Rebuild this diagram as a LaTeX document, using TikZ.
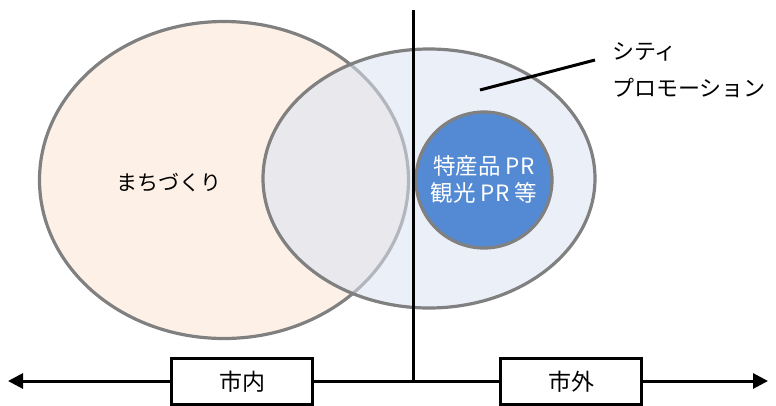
\documentclass[tikz,border=0pt]{standalone}
\usepackage{fontspec}
\setmainfont{Noto Sans CJK JP}
\usetikzlibrary{shapes.geometric,arrows.meta}
\definecolor{peach}{RGB}{253,240,231}
\definecolor{lblue}{RGB}{218,227,243}
\definecolor{midblue}{RGB}{84,138,212}
\definecolor{rim}{RGB}{128,128,128}
\tikzset{
  venn/.style={ellipse,draw=rim,line width=3.2pt,inner sep=0pt},
  tag/.style={draw=black,line width=3pt,fill=white,minimum width=141pt,minimum height=46pt,inner sep=0pt,font=\fontsize{23}{26}\selectfont},
  lab/.style={font=\fontsize{21}{24}\selectfont,inner sep=0pt},
  blk/.style={line width=3pt,draw=black}
}
\begin{document}
\begin{tikzpicture}[x=1pt,y=-1pt]
\useasboundingbox (0,0) rectangle (776,405);
\node[venn,fill=peach,minimum width=369pt,minimum height=317pt] (left) at (224,180) {};
\node[venn,fill=lblue,fill opacity=0.55,minimum width=332pt,minimum height=259pt] (right) at (429,178.5) {};
\node[venn,fill=midblue,minimum width=136pt,minimum height=136pt] (inner) at (484,180) {};
\coordinate (vtop) at (413,10);
\coordinate (vbot) at (413,381);
\draw[blk] (vtop) -- (vbot);
\coordinate (lineA) at (480,90);
\coordinate (lineB) at (595,60);
\draw[blk] (lineA) -- (lineB);
\coordinate (arL) at (8,381);
\coordinate (arR) at (768,381);
\draw[blk,{Triangle[length=15pt,width=15pt]}-{Triangle[length=15pt,width=15pt]}] (arL) -- (arR);
\node[tag] (in) at (242,381.5) {市内};
\node[tag] (out) at (571,381.5) {市外};
\node[lab] (machi) at (169,183) {まちづくり};
\node[lab,text=white,align=center,font=\fontsize{22.5}{27}\selectfont] (pr) at (484,179) {特産品 PR\\観光 PR 等};
\node[lab,anchor=west,font=\fontsize{22}{24}\selectfont] (city1) at (612,52) {シティ};
\node[lab,anchor=west,font=\fontsize{22}{24}\selectfont] (city2) at (612,88) {プロモーション};
\end{tikzpicture}
\end{document}
